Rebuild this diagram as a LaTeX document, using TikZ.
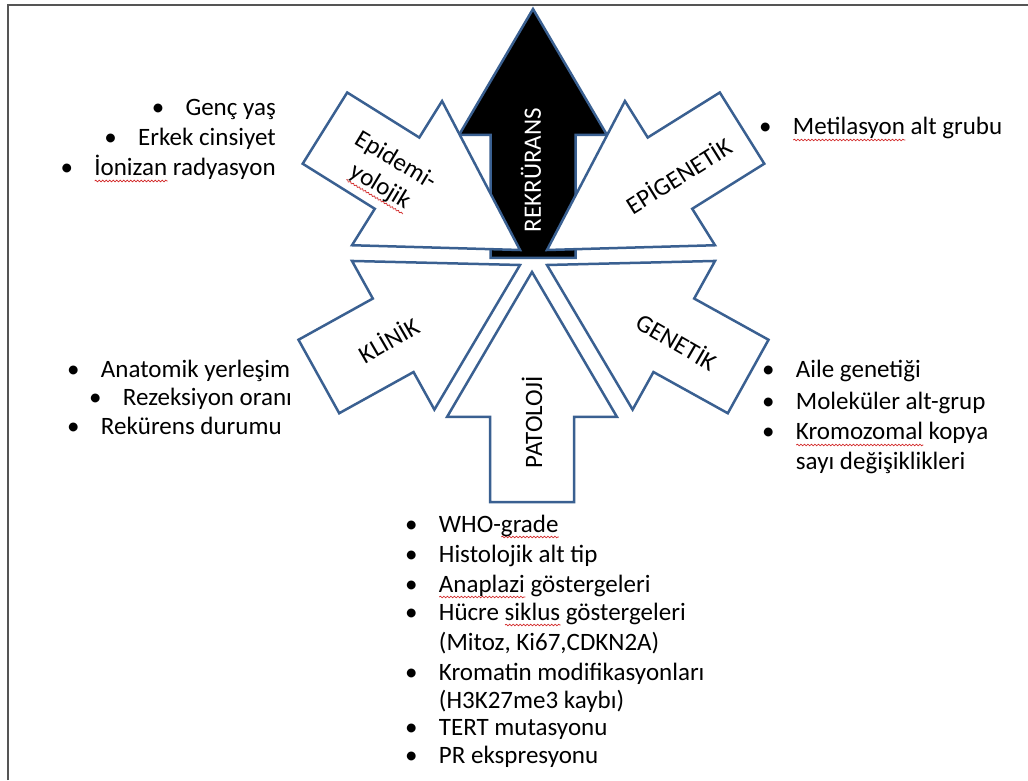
\documentclass[tikz,border=0pt]{standalone}
\usepackage{fontspec}
\setmainfont{Carlito}
\usetikzlibrary{decorations.pathmorphing}
\definecolor{aline}{RGB}{58,96,145}
\definecolor{sqred}{RGB}{210,40,40}
\definecolor{frameg}{RGB}{85,85,85}
\newlength\sqw
\newcommand\sq[1]{\settowidth\sqw{#1}\edef\sqwd{\the\sqw}\rlap{\smash{\tikz[baseline=0pt]\draw[sqred,line width=0.7pt,decorate,decoration={snake,amplitude=0.8pt,segment length=3.5pt}] (0pt,-5pt) -- (\sqwd,-5pt);}}#1}
\newcommand\bl{\makebox[1.35em][l]{•}}
\begin{document}
\begin{tikzpicture}[x=1pt,y=1pt,
  every node/.style={font=\fontsize{25}{30}\selectfont, inner sep=0pt},
  arrowline/.style={draw=aline, line width=2.5pt, fill=white, line join=miter},
  lbl/.style={font=\fontsize{25}{30}\selectfont},
  item/.style={anchor=base west},
  barrow/.pic={\path[arrowline] (0,0) -- (-145,85) -- (-145,42) -- (-230,42) -- (-230,-42) -- (-145,-42) -- (-145,-85) -- cycle;}
]
\useasboundingbox (0,0) rectangle (1028,780);
% frame
\draw[frameg, line width=2pt] (8,0) -- (8,775) -- (1028,775);
% black central arrow
\path[draw=aline, line width=2.5pt, fill=black, line join=miter]
  (533,771) -- (607,645) -- (575.5,645) -- (575.5,522) -- (490.5,522) -- (490.5,645) -- (459,645) -- cycle;
% outer arrows
\pic[rotate=-32] at (520,530) {barrow};
\pic[rotate=212] at (547,530) {barrow};
\pic[rotate=29] at (520,515) {barrow};
\pic[rotate=151] at (547,515) {barrow};
\pic[rotate=90] at (532,508) {barrow};
% arrow labels
\node[lbl, rotate=90, text=white] (rek) at (531,610) {REKRÜRANS};
\node[lbl, rotate=90] (pat) at (532,358) {PATOLOJİ};
\node[lbl, rotate=30] (kli) at (388,441) {KLİNİK};
\node[lbl, rotate=-30] (gen) at (677,439) {GENETİK};
\node[lbl, rotate=32] (epg) at (678,605) {EPİGENETİK};
\node[lbl, rotate=-31, align=center] (epi) at (388,606) {Epidemi-\\\sq{yolojik}};
% epidemiyolojik list
\node[anchor=base east] (e1) at (276,664) {\bl Genç yaş};
\node[anchor=base east] (e2) at (276,634) {\bl Erkek cinsiyet};
\node[anchor=base east] (e3) at (276,604) {\bl \sq{İonizan} radyasyon};
% epigenetik list
\node[item] (m1) at (759,645) {\bl \sq{Metilasyon} alt grubu};
% klinik list
\node[item] (k1) at (67,402) {\bl Anatomik yerleşim};
\node[item] (k2) at (89,374) {\bl Rezeksiyon oranı};
\node[item] (k3) at (67,345) {\bl Rekürens durumu};
% genetik list
\node[item] (g1) at (762,402) {\bl Aile genetiği};
\node[item] (g2) at (762,370) {\bl Moleküler alt-grup};
\node[item] (g3) at (762,340) {\bl \sq{Kromozomal} kopya};
\node[item] (g4) at (762,310) {\phantom{\bl}sayı değişiklikleri};
% patoloji list
\node[item] (p1) at (405,248) {\bl WHO-\sq{grade}};
\node[item] (p2) at (405,218) {\bl Histolojik alt tip};
\node[item] (p3) at (405,188) {\bl \sq{Anaplazi} göstergeleri};
\node[item] (p4) at (405,160) {\bl Hücre \sq{siklus} göstergeleri};
\node[item] (p5) at (405,130) {\phantom{\bl}(Mitoz, Ki67,CDKN2A)};
\node[item] (p6) at (405,100) {\bl Kromatin modifikasyonları};
\node[item] (p7) at (405,72) {\phantom{\bl}(H3K27me3 kaybı)};
\node[item] (p8) at (405,45) {\bl TERT mutasyonu};
\node[item] (p9) at (405,17) {\bl PR ekspresyonu};
\end{tikzpicture}
\end{document}
